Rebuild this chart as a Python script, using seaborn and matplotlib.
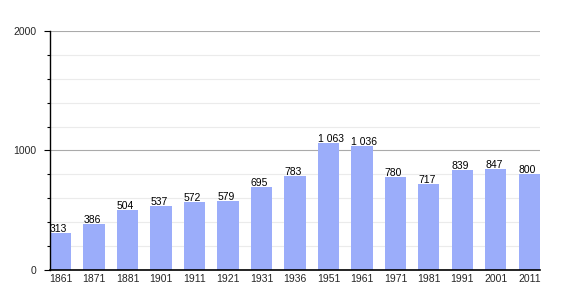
import matplotlib
matplotlib.use("Agg")
import matplotlib.pyplot as plt
import seaborn as sns
import pandas as pd
from matplotlib.ticker import MultipleLocator

years = ["1861", "1871", "1881", "1901", "1911", "1921", "1931", "1936",
         "1951", "1961", "1971", "1981", "1991", "2001", "2011"]
population = [313, 386, 504, 537, 572, 579, 695, 783,
              1063, 1036, 780, 717, 839, 847, 800]
value_labels = ["313", "386", "504", "537", "572", "579", "695", "783",
                "1 063", "1 036", "780", "717", "839", "847", "800"]
y_ticks = [0, 1000, 2000]

df = pd.DataFrame({"year": years, "pop": population})

sns.set_style("white")
plt.rcParams['font.family'] = ['Liberation Sans', 'DejaVu Sans']

fig = plt.figure(figsize=(5.7, 3.0), dpi=100)
ax = fig.add_axes([0.0877, 0.1, 0.8596, 0.7967])

bw = 0.63
sns.barplot(data=df, x="year", y="pop", color="#9BADFA", saturation=1,
            width=bw, ax=ax, linewidth=0, edgecolor="none", zorder=2)

ax.set_xlim(-bw / 2, len(years) - 1 + bw / 2)
ax.set_ylim(0, 2000)
ax.set_yticks(y_ticks)
ax.yaxis.set_minor_locator(MultipleLocator(200))
ax.grid(axis="y", which="major", color="#aaaaaa", linewidth=0.8, zorder=0)
ax.grid(axis="y", which="minor", color="#ebebeb", linewidth=0.8, zorder=0)
ax.set_axisbelow(True)

for sp in ["top", "right"]:
    ax.spines[sp].set_visible(False)
ax.spines["left"].set_color("black")
ax.spines["bottom"].set_color("black")
ax.spines["left"].set_linewidth(1.0)
ax.spines["bottom"].set_linewidth(1.2)
ax.spines["bottom"].set_zorder(4)
ax.spines["left"].set_zorder(4)

ax.tick_params(axis="y", which="major", length=4.5, width=0.8, color="black",
               labelsize=7.5, pad=5, left=True)
ax.tick_params(axis="y", which="minor", length=2.2, width=0.8, color="black", left=True)
ax.tick_params(axis="x", length=0, labelsize=7.5, pad=3)
ax.set_xlabel("")
ax.set_ylabel("")

for i, (v, lab) in enumerate(zip(population, value_labels)):
    ax.text(i - bw / 2, v - 8, lab, ha="left", va="bottom", fontsize=7.5,
            color="black", zorder=5)

fig.savefig("out.png", dpi=100)
